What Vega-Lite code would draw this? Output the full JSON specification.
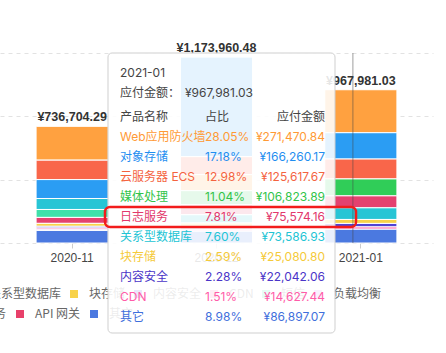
{
  "$schema": "https://vega.github.io/schema/vega-lite/v6.json",
  "autosize": {"type": "none"},
  "padding": {"left": 0, "top": 53, "right": 13, "bottom": 300},
  "background": "white",
  "config": {
    "view": {"stroke": null},
    "font": "Liberation Sans, Noto Sans CJK SC",
    "text": {"font": "Inter, Noto Sans CJK SC"}
  },
  "datasets": {
    "bills": [
      {"month": "2020-11", "product": "Web应用防火墙", "amount": 213410.55},
      {"month": "2020-11", "product": "云服务器 ECS", "amount": 122760.31},
      {"month": "2020-11", "product": "对象存储", "amount": 119580.12},
      {"month": "2020-11", "product": "关系型数据库", "amount": 69210.44},
      {"month": "2020-11", "product": "短信", "amount": 50120.87},
      {"month": "2020-11", "product": "日志服务", "amount": 37640.29},
      {"month": "2020-11", "product": "块存储", "amount": 18650.73},
      {"month": "2020-11", "product": "内容安全", "amount": 10230.18},
      {"month": "2020-11", "product": "CDN", "amount": 8610.55},
      {"month": "2020-11", "product": "负载均衡", "amount": 7170.13},
      {"month": "2020-11", "product": "其它", "amount": 79320.12},
      {"month": "2020-12", "product": "对象存储", "amount": 628540.37},
      {"month": "2020-12", "product": "云服务器 ECS", "amount": 113720.64},
      {"month": "2020-12", "product": "Web应用防火墙", "amount": 101350.18},
      {"month": "2020-12", "product": "媒体处理", "amount": 88460.92},
      {"month": "2020-12", "product": "日志服务", "amount": 63180.45},
      {"month": "2020-12", "product": "关系型数据库", "amount": 52310.76},
      {"month": "2020-12", "product": "块存储", "amount": 21240.33},
      {"month": "2020-12", "product": "内容安全", "amount": 18130.57},
      {"month": "2020-12", "product": "CDN", "amount": 12460.11},
      {"month": "2020-12", "product": "其它", "amount": 74566.15},
      {"month": "2021-01", "product": "Web应用防火墙", "amount": 271470.84},
      {"month": "2021-01", "product": "对象存储", "amount": 166260.17},
      {"month": "2021-01", "product": "云服务器 ECS", "amount": 125617.67},
      {"month": "2021-01", "product": "媒体处理", "amount": 106823.89},
      {"month": "2021-01", "product": "日志服务", "amount": 75574.16},
      {"month": "2021-01", "product": "关系型数据库", "amount": 73586.93},
      {"month": "2021-01", "product": "块存储", "amount": 25080.80},
      {"month": "2021-01", "product": "内容安全", "amount": 22042.06},
      {"month": "2021-01", "product": "CDN", "amount": 14627.44},
      {"month": "2021-01", "product": "其它", "amount": 86897.07}
    ]
  },
  "spacing": 0,
  "bounds": "flush",
  "resolve": {
    "scale": {"color": "independent", "fill": "independent"},
    "legend": {"color": "independent", "fill": "independent"}
  },
  "vconcat": [
    {
      "width": 433,
      "height": 190,
      "layer": [
        {
          "data": {"name": "bills"},
          "transform": [{"calculate": "datum.product === '其它' ? -1 : datum.amount", "as": "ord"}],
          "mark": {"type": "bar", "stroke": "white", "strokeWidth": 1},
          "encoding": {
            "x": {
              "field": "month", "type": "nominal", "title": null,
              "scale": {"paddingInner": 0.5, "paddingOuter": 0.25},
              "axis": {"labelAngle": 0, "domain": false, "ticks": true, "tickColor": "#cccccc", "tickSize": 5, "labelFontSize": 12, "labelColor": "#444444", "labelPadding": 4, "labelFont": "Liberation Sans", "grid": false}
            },
            "y": {
              "field": "amount", "type": "quantitative", "stack": "zero", "title": null,
              "scale": {"domain": [0, 1200000], "nice": false},
              "axis": {"labels": false, "ticks": false, "domain": false, "grid": true, "gridDash": [4, 4], "gridColor": "#e2e2e2", "values": [0, 200000, 400000, 600000, 800000, 1000000, 1200000]}
            },
            "color": {
              "field": "product", "type": "nominal",
              "scale": {
                "domain": ["Web应用防火墙", "对象存储", "云服务器 ECS", "媒体处理", "日志服务", "关系型数据库", "块存储", "内容安全", "CDN", "短信", "负载均衡", "API 网关", "其它"],
                "range": ["#ffa140", "#2b9df3", "#f9664a", "#30cd58", "#e4416f", "#27c5d5", "#f8d24a", "#5143d4", "#ff6fb3", "#3fe0aa", "#c98df2", "#e8406a", "#4b79e0"]
              },
              "legend": {
                "orient": "none", "legendX": -32, "legendY": 235, "direction": "horizontal", "columns": 6,
                "values": ["关系型数据库", "块存储", "内容安全", "CDN", "短信", "负载均衡"],
                "title": null, "symbolType": "square", "symbolSize": 64, "symbolStrokeWidth": 0,
                "labelFontSize": 12, "labelColor": "#666666", "labelFont": "Noto Sans CJK SC",
                "labelOffset": 9, "columnPadding": 6, "padding": 0, "labelLimit": 200
              }
            },
            "order": {"field": "ord", "type": "quantitative", "sort": "ascending"}
          }
        },
        {
          "data": {"name": "bills"},
          "transform": [
            {"aggregate": [{"op": "sum", "field": "amount", "as": "total"}], "groupby": ["month"]},
            {"calculate": "'¥' + format(datum.total, ',.2f')", "as": "lbl"}
          ],
          "mark": {"type": "text", "baseline": "alphabetic", "dy": -5, "fontWeight": "bold", "fontSize": 12.5, "color": "#333333", "font": "Liberation Sans"},
          "encoding": {
            "x": {"field": "month", "type": "nominal"},
            "y": {"field": "total", "type": "quantitative"},
            "text": {"field": "lbl"}
          }
        },
        {
          "data": {"values": [{}]},
          "mark": {"type": "rule", "xOffset": -8, "stroke": "#444444", "strokeOpacity": 0.35, "strokeWidth": 1.5},
          "encoding": {
            "x": {"datum": "2021-01", "type": "nominal"},
            "y": {"datum": 0, "type": "quantitative"},
            "y2": {"datum": 1200000}
          }
        },
        {
          "data": {"name": "bills"},
          "mark": {"type": "point", "filled": true, "opacity": 0, "size": 1},
          "encoding": {
            "x": {"field": "month", "type": "nominal"},
            "y": {"field": "amount", "type": "quantitative"},
            "fill": {
              "field": "product", "type": "nominal",
              "scale": {"domain": ["日志服务", "API 网关", "其它"], "range": ["#e4416f", "#e8406a", "#4b79e0"]},
              "legend": {
                "orient": "none", "legendX": -63, "legendY": 255, "direction": "horizontal", "columns": 3,
                "title": null, "symbolType": "square", "symbolSize": 64, "symbolStrokeWidth": 0, "symbolOpacity": 1,
                "labelFontSize": 12, "labelColor": "#666666", "labelFont": "Noto Sans CJK SC",
                "labelOffset": 9, "columnPadding": 7, "padding": 0, "labelLimit": 200
              }
            }
          }
        }
      ]
    },
    {
      "width": 433,
      "height": 190,
      "layer": [
        {
          "data": {"values": [{}]},
          "mark": {"type": "rect", "fill": "white", "fillOpacity": 0.88, "stroke": "#cfcfcf", "strokeWidth": 1, "cornerRadius": 4},
          "encoding": {
            "x": {"datum": 108, "type": "quantitative", "scale": {"domain": [0, 433], "nice": false, "zero": false}, "axis": null},
            "x2": {"datum": 335},
            "y": {"datum": -3.2, "type": "quantitative", "scale": {"domain": [6.3, 15.8], "reverse": true, "nice": false, "zero": false}, "axis": null},
            "y2": {"datum": 10.8}
          }
        },
        {
          "data": {"values": [{"t": "2021-01", "k": -2.2}, {"t": "应付金额：", "k": -1.2}, {"t": "产品名称", "k": 0}]},
          "mark": {"type": "text", "align": "left", "baseline": "middle", "fontSize": 12, "color": "#444444"},
          "encoding": {
            "x": {"datum": 120, "type": "quantitative"},
            "y": {"field": "k", "type": "quantitative"},
            "text": {"field": "t"}
          }
        },
        {
          "data": {"values": [{"t": "¥967,981.03", "k": -1.2}]},
          "mark": {"type": "text", "align": "left", "baseline": "middle", "fontSize": 12, "color": "#444444"},
          "encoding": {
            "x": {"datum": 185, "type": "quantitative"},
            "y": {"field": "k", "type": "quantitative"},
            "text": {"field": "t"}
          }
        },
        {
          "data": {"values": [{"t": "占比", "k": 0}]},
          "mark": {"type": "text", "align": "left", "baseline": "middle", "fontSize": 12, "color": "#444444"},
          "encoding": {
            "x": {"datum": 205, "type": "quantitative"},
            "y": {"field": "k", "type": "quantitative"},
            "text": {"field": "t"}
          }
        },
        {
          "data": {"values": [{"t": "应付金额", "k": 0}]},
          "mark": {"type": "text", "align": "right", "baseline": "middle", "fontSize": 12, "color": "#444444"},
          "encoding": {
            "x": {"datum": 325, "type": "quantitative"},
            "y": {"field": "k", "type": "quantitative"},
            "text": {"field": "t"}
          }
        },
        {
          "data": {"name": "bills"},
          "transform": [
            {"filter": "datum.month === '2021-01'"},
            {"calculate": "datum.product === '其它' ? -1 : datum.amount", "as": "ord"},
            {"joinaggregate": [{"op": "sum", "field": "amount", "as": "total"}]},
            {"calculate": "datum.amount / datum.total", "as": "share"},
            {"window": [{"op": "row_number", "as": "rank"}], "sort": [{"field": "ord", "order": "descending"}]},
            {"calculate": "'¥' + format(datum.amount, ',.2f')", "as": "amt"},
            {"calculate": "format(datum.share, '.2%')", "as": "pct"}
          ],
          "layer": [
            {
              "mark": {"type": "text", "align": "left", "baseline": "middle", "fontSize": 12},
              "encoding": {
                "x": {"datum": 120, "type": "quantitative"},
                "y": {"field": "rank", "type": "quantitative"},
                "text": {"field": "product"},
                "color": {
                  "field": "product", "type": "nominal", "legend": null,
                  "scale": {
                    "domain": ["Web应用防火墙", "对象存储", "云服务器 ECS", "媒体处理", "日志服务", "关系型数据库", "块存储", "内容安全", "CDN", "短信", "负载均衡", "API 网关", "其它"],
                    "range": ["#ff9a35", "#1f8ef0", "#f4633f", "#32c44a", "#e2386c", "#22c4d4", "#f5ca3a", "#4a35c8", "#ff5ca8", "#3fe0aa", "#c98df2", "#e8406a", "#3f6fdc"]
                  }
                }
              }
            },
            {
              "mark": {"type": "text", "align": "left", "baseline": "middle", "fontSize": 12},
              "encoding": {
                "x": {"datum": 205, "type": "quantitative"},
                "y": {"field": "rank", "type": "quantitative"},
                "text": {"field": "pct"},
                "color": {"field": "product", "type": "nominal", "legend": null}
              }
            },
            {
              "mark": {"type": "text", "align": "right", "baseline": "middle", "fontSize": 12},
              "encoding": {
                "x": {"datum": 325, "type": "quantitative"},
                "y": {"field": "rank", "type": "quantitative"},
                "text": {"field": "amt"},
                "color": {"field": "product", "type": "nominal", "legend": null}
              }
            }
          ]
        },
        {
          "data": {"values": [{}]},
          "mark": {"type": "rect", "fillOpacity": 0, "fill": "white", "stroke": "#f21c1c", "strokeWidth": 2.5, "cornerRadius": 5},
          "encoding": {
            "x": {"datum": 105, "type": "quantitative"},
            "x2": {"datum": 356},
            "y": {"datum": 4.5, "type": "quantitative"},
            "y2": {"datum": 5.5}
          }
        }
      ]
    }
  ]
}
